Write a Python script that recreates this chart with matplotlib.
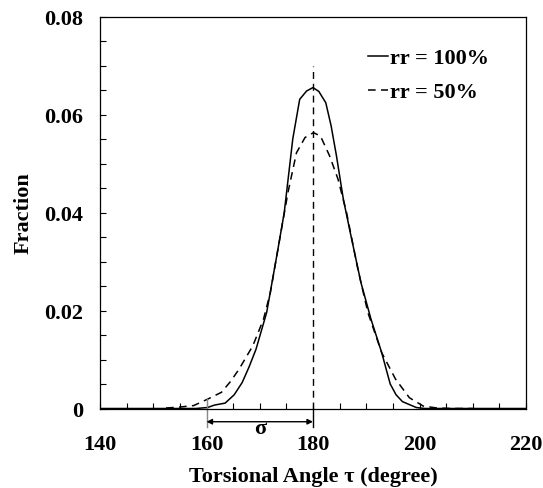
import matplotlib
matplotlib.use("Agg")
import matplotlib.pyplot as plt
from matplotlib.ticker import MultipleLocator

# Data
angle_100 = [140, 158, 160.2, 161.5, 163.5, 165.2, 166.7, 168.0, 169.3, 171.3, 173.3, 174.6, 176.2, 177.5,
             178.8, 180.0, 181.1, 182.4, 183.4, 184.4, 185.7, 187.0, 189.0, 190.9,
             192.9, 194.5, 195.6, 196.8, 199.4, 201, 220]
frac_100 = [0, 0, 0.0002, 0.0007, 0.0011, 0.0028, 0.0053, 0.0085, 0.0121, 0.0196, 0.0318, 0.0400, 0.0550, 0.0631,
            0.0648, 0.0655, 0.0647, 0.0624, 0.0577, 0.0516, 0.0427, 0.0359, 0.0257, 0.0182,
            0.0114, 0.0050, 0.0028, 0.0014, 0.0002, 0, 0]

angle_50 = [152.4, 155.0, 157.6, 160.2, 162.8, 164.5, 166.1, 168.7, 170.7, 172.0, 173.3, 175.3, 176.9,
            178.5, 180.1, 181.4, 183.1, 184.7, 186.3, 188.3, 190.3, 192.9, 195.5,
            198.1, 200.7, 203.3, 206, 210]
frac_50 = [0.0001, 0.0003, 0.0006, 0.0019, 0.0033, 0.0055, 0.0080, 0.0128, 0.0182, 0.0237, 0.0318, 0.0441, 0.0522,
           0.0553, 0.0563, 0.0556, 0.0516, 0.0468, 0.0400, 0.0291, 0.0196, 0.0114, 0.0060,
           0.0022, 0.0005, 0.0001, 0.0, 0.0]

labels = ["rr = 100%", "rr = 50%"]
x_ticks = [140, 160, 180, 200, 220]
y_ticks = [0, 0.02, 0.04, 0.06, 0.08]
y_tick_labels = ["0", "0.02", "0.04", "0.06", "0.08"]
center = 180
sigma_left = 160

plt.rcParams['font.family'] = ['Liberation Serif', 'DejaVu Serif']
plt.rcParams['font.weight'] = 'bold'

FS = 16

fig = plt.figure(figsize=(5.43, 4.89), dpi=100)
ax = fig.add_axes([100 / 543, 1 - 409.5 / 489, 426 / 543, 392 / 489])

ax.plot(angle_100, frac_100, color='black', lw=1.1, label=labels[0])
ax.plot(angle_50, frac_50, color='black', lw=1.1, ls=(0, (5, 3.5)), label=labels[1])

# vertical reference lines
ax.plot([center, center], [0, 0.0699], color='black', lw=1.0, ls=(0, (5, 3.5)))
ax.plot([center, center], [0, -0.0038], color='black', lw=1.0, clip_on=False)
ax.plot([sigma_left, sigma_left], [0.002, -0.0038], color='#888888', lw=1.0, clip_on=False)
ax.annotate('', xy=(sigma_left, -0.0027), xytext=(center, -0.0027),
            arrowprops=dict(arrowstyle='<|-|>', color='black', lw=1.0,
                            shrinkA=0, shrinkB=0, mutation_scale=8),
            annotation_clip=False)
ax.text((sigma_left + center) / 2, -0.0040, 'σ', ha='center', va='center',
        fontsize=FS, fontweight='bold')

ax.set_xlim(140, 220)
ax.set_ylim(0, 0.08)
ax.set_xticks(x_ticks)
ax.set_yticks(y_ticks)
ax.set_yticklabels(y_tick_labels)
ax.xaxis.set_minor_locator(MultipleLocator(5))
ax.yaxis.set_minor_locator(MultipleLocator(0.005))
ax.tick_params(axis='both', which='both', direction='in', length=4, width=0.8,
               labelsize=FS)
ax.tick_params(axis='x', which='major', length=4, pad=18)
ax.tick_params(axis='y', which='major', length=4, pad=12)
for lab in ax.get_xticklabels() + ax.get_yticklabels():
    lab.set_fontweight('bold')
for s in ax.spines.values():
    s.set_linewidth(0.9)

ax.set_xlabel('Torsional Angle τ (degree)', fontsize=FS, fontweight='bold', labelpad=9)
ax.set_ylabel('Fraction', fontsize=FS, fontweight='bold', labelpad=8)

leg = ax.legend(loc='upper left', bbox_to_anchor=(0.629, 0.92), frameon=False,
                borderpad=0, borderaxespad=0,
                handlelength=0.9, handletextpad=0.1, labelspacing=0.6,
                prop={'size': FS, 'weight': 'bold'})

fig.savefig('out.png', dpi=100)
